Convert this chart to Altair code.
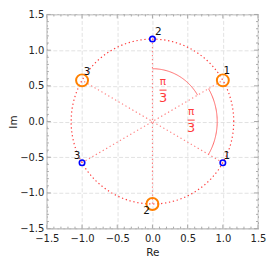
import altair as alt
import pandas as pd

# ---- data ----
blue_re = [1.0, 0.0, -1.0]
blue_im = [-0.577, 1.155, -0.577]
blue_lab = ["1", "2", "3"]

orange_re = [1.0, 0.0, -1.0]
orange_im = [0.577, -1.155, 0.577]
orange_lab = ["1", "2", "3"]

circle_r = 1.155
arc_radii = [0.74, 0.92]
arc_from = [30, -30]
arc_to = [90, 30]

frac_re = [0.15, 0.55]
frac_im = [0.44, 0.02]

tick_labels = [-1.5, -1.0, -0.5, 0.0, 0.5, 1.0, 1.5]

# ---- layout / style ----
W, H = 212, 215
FONT = "DejaVu Sans"
RED = "#ff3a3a"
xs = alt.Scale(domain=[-1.5, 1.5], nice=False, zero=False)
ys = alt.Scale(domain=[-1.5, 1.5], nice=False, zero=False)

def ax(title, pad, tpad):
    return alt.Axis(values=tick_labels, format=".1f", grid=True, gridColor="#e2e2e2",
                    gridDash=[4, 2], ticks=False, domain=False, labelFont=FONT,
                    labelFontSize=10, labelColor="#222", labelPadding=pad,
                    labelFlush=False, labelOverlap=False, title=title,
                    titleFont=FONT, titleFontSize=10.5, titleFontWeight="normal",
                    titleColor="#222", titlePadding=tpad, titleLimit=200)

xaxis = ax("Re", 5, 4)
yaxis = ax("Im", 3, 1)

def X(f):
    return alt.X(f, type="quantitative", scale=xs, axis=xaxis)

def Y(f):
    return alt.Y(f, type="quantitative", scale=ys, axis=yaxis)

blue = pd.DataFrame({"re": blue_re, "im": blue_im, "lab": blue_lab})
orange = pd.DataFrame({"re": orange_re, "im": orange_im, "lab": orange_lab})
pairs = pd.DataFrame({"re": blue_re, "im": blue_im,
                      "re2": orange_re[::-1], "im2": orange_im[::-1]})
frac = pd.DataFrame({"re": frac_re, "im": frac_im})

# circle through the points
circle = alt.Chart(alt.sequence(0, 362, 2, as_="t")).transform_calculate(
    re=f"{circle_r}*cos(datum.t*PI/180)", im=f"{circle_r}*sin(datum.t*PI/180)"
).mark_line(color=RED, strokeWidth=1.2, strokeDash=[1.3, 2.7]).encode(
    x=X("re"), y=Y("im"), order="t:Q")

radial = alt.Chart(pairs).mark_rule(color="#ff7a7a", strokeWidth=1.1,
                                    strokeDash=[1.3, 2.7]).encode(
    x=X("re"), y=Y("im"), x2="re2:Q", y2="im2:Q")

arcs = []
for r, a0, a1 in zip(arc_radii, arc_from, arc_to):
    arcs.append(alt.Chart(alt.sequence(a0, a1 + 1, 1, as_="t")).transform_calculate(
        re=f"{r}*cos(datum.t*PI/180)", im=f"{r}*sin(datum.t*PI/180)"
    ).mark_line(color="#ff6a6a", strokeWidth=1).encode(
        x=X("re"), y=Y("im"), order="t:Q"))

fr_pi = alt.Chart(frac).mark_text(text="π", color=RED, font=FONT, fontSize=10.5,
                                  dy=-8, baseline="middle").encode(x=X("re"), y=Y("im"))
fr_3 = alt.Chart(frac).mark_text(text="3", color=RED, font=FONT, fontSize=13,
                                 dy=8, baseline="middle").encode(x=X("re"), y=Y("im"))
fr_bar = alt.Chart(frac).transform_calculate(
    a="datum.re-0.05", b="datum.re+0.05").mark_rule(color=RED, strokeWidth=1).encode(
    x=X("a"), x2="b:Q", y=Y("im"))

pts_o = alt.Chart(orange).mark_point(shape="circle", filled=False, color="#ff8000",
                                     strokeWidth=2, size=144, opacity=1).encode(
    x=X("re"), y=Y("im"))
pts_b = alt.Chart(blue).mark_point(shape="circle", filled=False, color="#0000ff",
                                   strokeWidth=1.6, size=30, opacity=1).encode(
    x=X("re"), y=Y("im"))

# label offsets (pixels)
blue_off = {"1": (4, -7), "2": (6, -7), "3": (-5, -7)}
orange_off = {"1": (4, -9), "2": (-6, 7), "3": (5, -8)}
labels = []
for df, offs in ((blue, blue_off), (orange, orange_off)):
    for lab, (dx, dy) in offs.items():
        labels.append(alt.Chart(df).transform_filter(f"datum.lab == '{lab}'").mark_text(
            font=FONT, fontSize=10.5, color="#111", dx=dx, dy=dy, baseline="middle").encode(
            x=X("re"), y=Y("im"), text="lab:N"))

# inward ticks on all four sides
FRAME = "#a8a8a8"
ticks = []
for major, ln in ((False, 2), (True, 4)):
    flt = "datum.k % 5 == 0" if major else "datum.k % 5 != 0"
    base = alt.Chart(alt.sequence(-15, 16, 1, as_="k")).transform_filter(flt).transform_calculate(
        v="datum.k/10")
    ticks.append(base.mark_rule(color=FRAME, strokeWidth=1).encode(
        x=X("v"), y=alt.value(0), y2=alt.value(ln)))
    ticks.append(base.mark_rule(color=FRAME, strokeWidth=1).encode(
        x=X("v"), y=alt.value(H), y2=alt.value(H - ln)))
    ticks.append(base.mark_rule(color=FRAME, strokeWidth=1).encode(
        y=Y("v"), x=alt.value(0), x2=alt.value(ln)))
    ticks.append(base.mark_rule(color=FRAME, strokeWidth=1).encode(
        y=Y("v"), x=alt.value(W), x2=alt.value(W - ln)))

chart = alt.layer(circle, radial, *arcs, fr_bar, fr_pi, fr_3, pts_o, pts_b,
                  *labels, *ticks).properties(
    width=W, height=H,
    autosize=alt.AutoSizeParams(type="none"),
    padding={"left": 39, "top": 6, "right": 9, "bottom": 31},
).configure_view(stroke=FRAME, strokeWidth=1.2)

chart.save("out.html", embed_options={"renderer": "svg", "actions": False})
